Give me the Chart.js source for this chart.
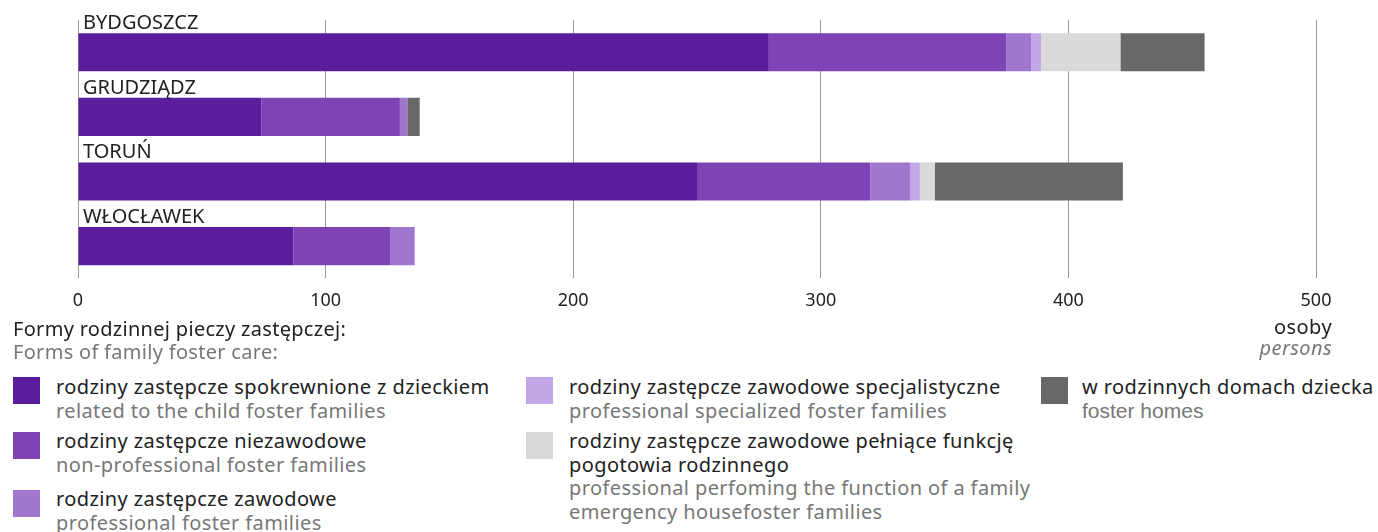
<!DOCTYPE html>
<html lang="pl">
<head>
<meta charset="utf-8">
<script src="https://cdn.jsdelivr.net/npm/chart.js@4"></script>
<style>
  body { margin: 0; background: #fff; font-family: 'Noto Sans', sans-serif; color: #222; }
  #wrap { position: relative; width: 1378px; height: 532px; overflow: hidden; }
  #box { position: absolute; left: 0; top: 0; width: 1378px; height: 324px; }
  .pl { color: #222; }
  .en { color: #777; }
  .txt { position: absolute; font-size: 20px; letter-spacing: 0.4px; line-height: 23.5px; white-space: pre; }
  .sq { position: absolute; width: 27px; height: 27px; }
</style>
</head>
<body>
<div id="wrap">
  <div id="box"><canvas id="myChart"></canvas></div>
  <div id="legend"></div>
</div>
<script>
const cities = ['BYDGOSZCZ', 'GRUDZIĄDZ', 'TORUŃ', 'WŁOCŁAWEK'];
const related = [279, 74, 250, 87];
const nonProfessional = [96, 56, 70, 39];
const professional = [10, 3, 16, 10];
const specialized = [4, 0, 4, 0];
const emergency = [32, 0, 6, 0];
const fosterHomes = [34, 5, 76, 0];
const xTicks = [0, 100, 200, 300, 400, 500];

const labelsPl = [
    'rodziny zastępcze spokrewnione z dzieckiem',
    'rodziny zastępcze niezawodowe',
    'rodziny zastępcze zawodowe',
    'rodziny zastępcze zawodowe specjalistyczne',
    'rodziny zastępcze zawodowe pełniące funkcję\npogotowia rodzinnego',
    'w rodzinnych domach dziecka'
];
const labelsEn = [
    'related to the child foster families',
    'non-professional foster families',
    'professional foster families',
    'professional specialized foster families',
    'professional perfoming the function of a family\nemergency housefoster families',
    'foster homes'
];
const colors = ['#5a1e9d', '#7e43b5', '#a076cf', '#c1a7e6', '#d9d9d9', '#686868'];

const fontName = "'Noto Sans', sans-serif";

// legend spots: [square left, square top, text left, text top]
const spots = [
    [13, 377, 56, 375],
    [13, 432, 56, 429],
    [13, 490, 56, 487],
    [526, 377, 569, 375],
    [526, 432, 569, 429],
    [1041, 377, 1082, 375]
];

const legend = document.getElementById('legend');
let html = `<div class="txt pl" style="left:13px;top:317px;letter-spacing:0.3px">Formy rodzinnej pieczy zastępczej:</div>
<div class="txt en" style="left:13px;top:340px;letter-spacing:0.3px">Forms of family foster care:</div>
<div class="txt pl" style="right:46px;top:315px;text-align:right">osoby</div>
<div class="txt en" style="right:46px;top:336px;text-align:right;font-style:italic">persons</div>`;
labelsPl.forEach((pl, i) => {
    const s = spots[i];
    const enStyle = i == 5 ? "font-family:'Liberation Sans',Arial,sans-serif;font-size:21px;letter-spacing:0" : '';
    html += `<div class="sq" style="left:${s[0]}px;top:${s[1]}px;background:${colors[i]}"></div>
<div class="txt" style="left:${s[2]}px;top:${s[3]}px"><span class="pl">${pl}</span>
<span class="en" style="${enStyle}">${labelsEn[i]}</span></div>`;
});
legend.innerHTML = html;

const cityLabels = {
    id: 'cityLabels',
    afterDatasetsDraw(chart) {
        const ctx = chart.ctx;
        const meta = chart.getDatasetMeta(0);
        ctx.save();
        ctx.font = `20px ${fontName}`;
        ctx.fillStyle = '#222';
        ctx.textBaseline = 'alphabetic';
        ctx.textAlign = 'left';
        meta.data.forEach((bar, i) => {
            ctx.fillText(cities[i], chart.chartArea.left + 5, bar.y - bar.height / 2 - 4);
        });
        ctx.restore();
    }
};

const series = [related, nonProfessional, professional, specialized, emergency, fosterHomes];

new Chart(document.getElementById('myChart'), {
    type: 'bar',
    data: {
        labels: cities,
        datasets: series.map((d, i) => ({
            label: labelsPl[i],
            data: d,
            backgroundColor: colors[i],
            borderWidth: 0,
            categoryPercentage: 1,
            barPercentage: 0.59
        }))
    },
    options: {
        indexAxis: 'y',
        responsive: true,
        maintainAspectRatio: false,
        animation: false,
        layout: { padding: { left: 78, right: 62, top: 20, bottom: 0 } },
        plugins: { legend: { display: false }, tooltip: { enabled: false } },
        scales: {
            x: {
                stacked: true,
                min: 0,
                max: 500,
                afterBuildTicks: axis => { axis.ticks = xTicks.map(v => ({ value: v })); },
                ticks: { padding: 12, color: '#222', font: { family: fontName, size: 18 } },
                grid: { color: '#999', drawTicks: false },
                border: { display: false }
            },
            y: { stacked: true, display: false }
        }
    },
    plugins: [cityLabels]
});
</script>
</body>
</html>
